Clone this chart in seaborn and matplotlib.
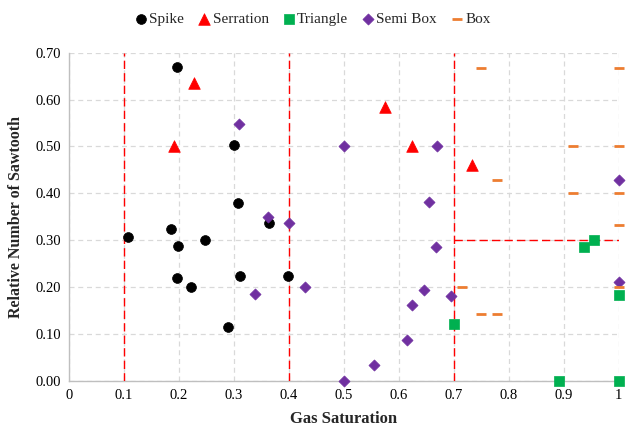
import matplotlib
matplotlib.use('Agg')
import matplotlib.pyplot as plt
import seaborn as sns
import pandas as pd

# Data
spike_x = [0.107, 0.185, 0.199, 0.197, 0.197, 0.222, 0.248, 0.290, 0.300, 0.307, 0.311, 0.363, 0.399]
spike_y = [0.307, 0.323, 0.288, 0.220, 0.670, 0.200, 0.301, 0.116, 0.502, 0.379, 0.224, 0.337, 0.224]

serration_x = [0.191, 0.227, 0.575, 0.624, 0.733]
serration_y = [0.500, 0.635, 0.585, 0.500, 0.461]

triangle_x = [0.700, 0.891, 0.936, 0.955, 1.000, 1.000]
triangle_y = [0.121, 0.000, 0.285, 0.300, 0.183, 0.000]

semibox_x = [0.309, 0.339, 0.362, 0.400, 0.429, 0.500, 0.500, 0.554, 0.614, 0.624,
             0.645, 0.655, 0.668, 0.669, 0.694, 1.000, 1.000]
semibox_y = [0.548, 0.185, 0.350, 0.337, 0.201, 0.500, 0.000, 0.035, 0.088, 0.162,
             0.193, 0.382, 0.286, 0.500, 0.182, 0.211, 0.429]

box_x = [0.714, 0.750, 0.750, 0.778, 0.778, 0.917, 0.917, 1.000, 1.000, 1.000, 1.000, 1.000]
box_y = [0.200, 0.667, 0.143, 0.429, 0.143, 0.500, 0.400, 0.667, 0.500, 0.400, 0.333, 0.200]

x_ticks = [0, 0.1, 0.2, 0.3, 0.4, 0.5, 0.6, 0.7, 0.8, 0.9, 1.0]
x_labels = ['0', '0.1', '0.2', '0.3', '0.4', '0.5', '0.6', '0.7', '0.8', '0.9', '1']
y_ticks = [0, 0.1, 0.2, 0.3, 0.4, 0.5, 0.6, 0.7]

sns.set_style('white')
plt.rcParams['font.family'] = ['Liberation Serif', 'DejaVu Serif']

fig = plt.figure(figsize=(6.27, 4.28), dpi=100)
ax = fig.add_axes([0.110, 0.110, 0.877, 0.767])

series = [
    ('Spike', spike_x, spike_y, 'o', 'black', 50),
    ('Serration', serration_x, serration_y, '^', '#FF0000', 70),
    ('Triangle', triangle_x, triangle_y, 's', '#00B050', 58),
    ('Semi Box', semibox_x, semibox_y, 'D', '#7030A0', 32),
    ('Box', box_x, box_y, '_', '#ED7D31', 48),
]
for name, xs, ys, mk, col, size in series:
    df = pd.DataFrame({'x': xs, 'y': ys})
    if mk == '_':
        sns.scatterplot(data=df, x='x', y='y', marker=mk, color=col, s=size,
                        linewidth=2, label=name, ax=ax, clip_on=False, zorder=4)
    else:
        sns.scatterplot(data=df, x='x', y='y', marker=mk, color=col, s=size,
                        edgecolor=col, linewidth=0.5, label=name, ax=ax,
                        clip_on=False, zorder=4)

# red dashed reference lines
for xv in [0.1, 0.4, 0.7]:
    ax.plot([xv, xv], [0, 0.7], color='#FF0000', ls=(0, (6, 3)), lw=1, zorder=3)
ax.plot([0.7, 1.0], [0.3, 0.3], color='#FF0000', ls=(0, (6, 3)), lw=1, zorder=3)

ax.set_xlim(0, 1)
ax.set_ylim(0, 0.7)
ax.set_xticks(x_ticks)
ax.set_xticklabels(x_labels)
ax.set_yticks(y_ticks)
ax.set_yticklabels(['%.2f' % v for v in y_ticks])
ax.tick_params(length=0, labelsize=10.5, pad=6, colors='#000000')
ax.grid(True, color='#D9D9D9', ls=(0, (4, 3)), lw=0.9)
ax.set_axisbelow(True)
for s in ['top', 'right']:
    ax.spines[s].set_visible(False)
for s in ['left', 'bottom']:
    ax.spines[s].set_color('#BFBFBF')
    ax.spines[s].set_linewidth(1)

ax.set_xlabel('Gas Saturation', fontsize=12, fontweight='bold', labelpad=6)
ax.set_ylabel('Relative Number of Sawtooth', fontsize=11.5, fontweight='bold', labelpad=8)

ax.legend(loc='center', bbox_to_anchor=(0.5, 1 - 19 / 428), bbox_transform=fig.transFigure,
          ncol=5, frameon=False, fontsize=11, handlelength=0.6, handletextpad=0.25,
          columnspacing=1.0, borderaxespad=0)

fig.savefig('out.png', dpi=100)
